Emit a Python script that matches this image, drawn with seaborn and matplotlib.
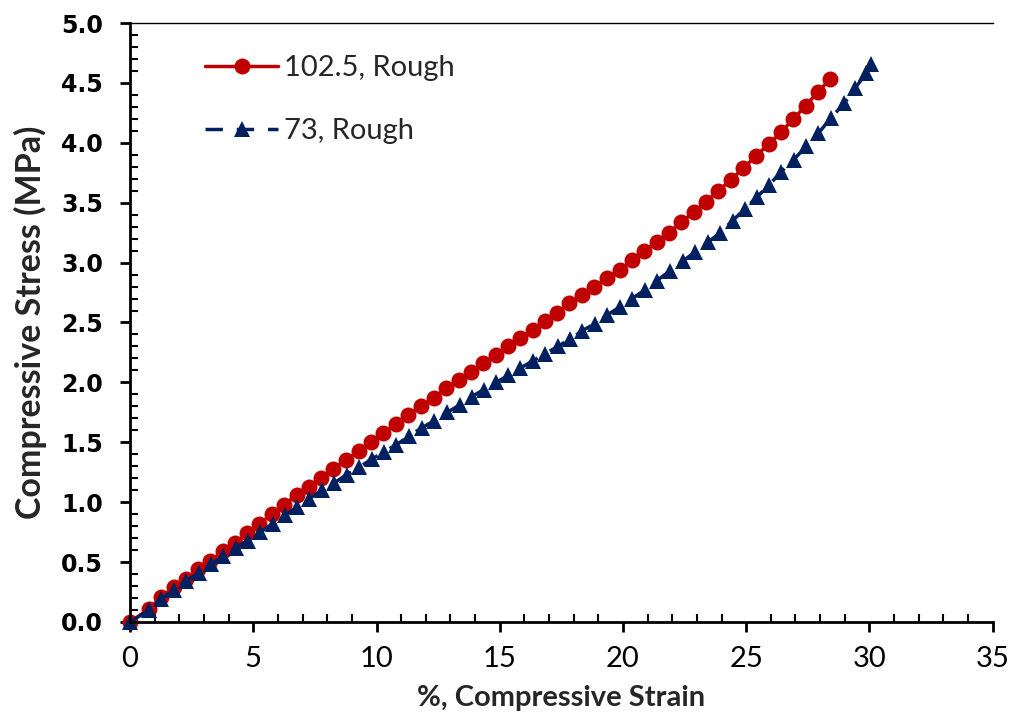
import numpy as np
import pandas as pd
import seaborn as sns
import matplotlib.pyplot as plt
from matplotlib.ticker import MultipleLocator

# strain (%) and stress (MPa)
strain_1025 = [0, 0.78, 1.27, 1.77, 2.27, 2.77, 3.26, 3.76, 4.26, 4.75, 5.25, 5.75,
               6.25, 6.76, 7.25, 7.75, 8.25, 8.76, 9.27, 9.78, 10.28, 10.78, 11.29,
               11.80, 12.32, 12.83, 13.34, 13.84, 14.34, 14.84, 15.34, 15.84, 16.33,
               16.83, 17.33, 17.82, 18.33, 18.84, 19.35, 19.86, 20.36, 20.86, 21.37,
               21.87, 22.37, 22.87, 23.37, 23.87, 24.38, 24.89, 25.40, 25.91, 26.42,
               26.92, 27.41, 27.90, 28.39]
stress_1025 = [0, 0.11, 0.21, 0.29, 0.36, 0.44, 0.51, 0.59, 0.66, 0.74, 0.82, 0.90,
               0.98, 1.06, 1.13, 1.20, 1.28, 1.35, 1.43, 1.50, 1.58, 1.65, 1.73,
               1.80, 1.87, 1.95, 2.02, 2.09, 2.16, 2.23, 2.30, 2.37, 2.44,
               2.51, 2.58, 2.66, 2.73, 2.80, 2.87, 2.94, 3.02, 3.10, 3.17,
               3.25, 3.34, 3.42, 3.51, 3.60, 3.69, 3.79, 3.89, 3.99, 4.09,
               4.20, 4.31, 4.42, 4.53]

strain_73 = [0, 0.78, 1.27, 1.77, 2.27, 2.78, 3.28, 3.78, 4.28, 4.79, 5.29, 5.79,
             6.29, 6.78, 7.28, 7.78, 8.28, 8.79, 9.29, 9.80, 10.31, 10.81, 11.31,
             11.83, 12.35, 12.87, 13.37, 13.86, 14.35, 14.86, 15.35, 15.84, 16.35,
             16.85, 17.36, 17.85, 18.34, 18.85, 19.35, 19.87, 20.37, 20.88, 21.38,
             21.90, 22.42, 22.93, 23.45, 23.95, 24.45, 24.95, 25.45, 25.94, 26.43,
             26.93, 27.44, 27.93, 28.45, 28.98, 29.43, 29.87, 30.05]
stress_73 = [0, 0.10, 0.19, 0.27, 0.34, 0.41, 0.48, 0.55, 0.62, 0.68, 0.75, 0.82,
             0.89, 0.96, 1.03, 1.10, 1.16, 1.23, 1.29, 1.36, 1.42, 1.48, 1.55,
             1.62, 1.68, 1.75, 1.81, 1.88, 1.94, 2.00, 2.06, 2.12, 2.18,
             2.24, 2.30, 2.36, 2.43, 2.49, 2.56, 2.63, 2.70, 2.77, 2.85,
             2.93, 3.01, 3.09, 3.17, 3.25, 3.35, 3.45, 3.55, 3.65, 3.76,
             3.86, 3.97, 4.08, 4.21, 4.33, 4.46, 4.58, 4.66]

labels = ['102.5, Rough', '73, Rough']
colors = ['#C00000', '#002060']

x_ticks = [0, 5, 10, 15, 20, 25, 30, 35]
y_ticks = [0.0, 0.5, 1.0, 1.5, 2.0, 2.5, 3.0, 3.5, 4.0, 4.5, 5.0]

sns.set_style('ticks')
plt.rcParams['font.family'] = ['Lato', 'DejaVu Sans']

fig = plt.figure(figsize=(10.16, 7.26), dpi=100)
ax = fig.add_axes([0.128, 0.1433, 0.849, 0.825])

df_red = pd.DataFrame({'strain': strain_1025, 'stress': stress_1025})
df_blue = pd.DataFrame({'strain': strain_73, 'stress': stress_73})

sns.lineplot(data=df_red, x='strain', y='stress', ax=ax, color=colors[0],
             linewidth=2.5, marker='o', markersize=11.5, markeredgewidth=0,
             estimator=None, sort=False, label=labels[0])
sns.lineplot(data=df_blue, x='strain', y='stress', ax=ax, color=colors[1],
             linewidth=2.5, marker='^', markersize=12, markeredgewidth=0,
             estimator=None, sort=False, label=labels[1])
ax.lines[1].set_dashes((5, 4))

ax.set_xlim(0, 35)
ax.set_ylim(0, 5)
ax.set_xticks(x_ticks)
ax.set_yticks(y_ticks)
ax.set_yticklabels([f'{v:.1f}' for v in y_ticks], family='DejaVu Sans',
                   fontweight='bold', fontsize=17)
ax.set_xticklabels([str(v) for v in x_ticks], fontsize=21)
ax.xaxis.set_minor_locator(MultipleLocator(1))
ax.yaxis.set_minor_locator(MultipleLocator(0.1))
ax.tick_params(which='major', direction='out', length=7.5, width=2, colors='black')
ax.tick_params(axis='y', which='major', pad=12)
ax.tick_params(axis='x', which='major', pad=10)
ax.tick_params(which='minor', direction='in', length=6, width=1.5, colors='black')

for side in ['left', 'bottom']:
    ax.spines[side].set_linewidth(2)
    ax.spines[side].set_color('black')
sns.despine(ax=ax, top=False)
ax.spines['top'].set_linewidth(1)
ax.spines['top'].set_color('black')
for sp in ax.spines.values():
    sp.set_clip_on(False)

ax.set_xlabel('%, Compressive Strain', fontsize=21, fontweight='bold', labelpad=9)
ax.set_ylabel('Compressive Stress (MPa)', fontsize=24.5, fontweight='bold', labelpad=10)

ax.legend(loc='upper left', bbox_to_anchor=(0.057, 0.99), frameon=False, fontsize=21,
          handlelength=2.5, labelspacing=1.25, handletextpad=0.2)

for line in ax.lines:
    line.set_clip_on(False)

fig.savefig('out.png', dpi=100)
